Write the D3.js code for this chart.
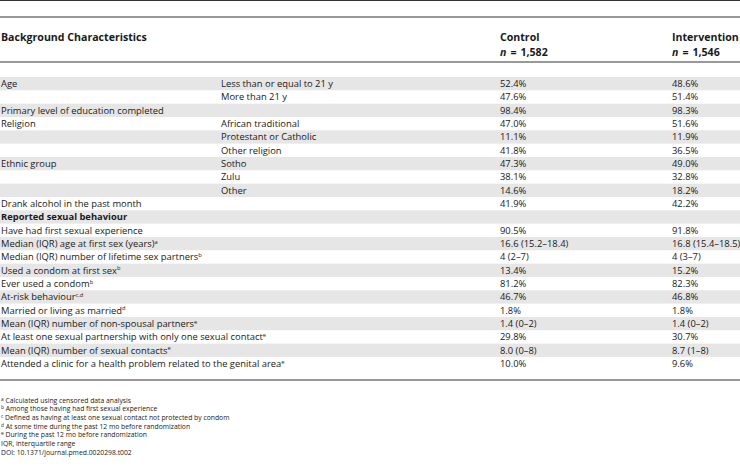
<!DOCTYPE html>
<html><head><meta charset="utf-8">
<script src="https://cdn.jsdelivr.net/npm/d3@7"></script>
<style>
html,body{margin:0;padding:0;background:#fff;}
svg{display:block;}
text{font-family:"Open Sans",sans-serif;fill:#1a1a1a;}
</style></head>
<body>
<svg id="chart" width="740" height="467"></svg>
<script>
// ---- data ----
const rowLabels = ["Age","","Primary level of education completed","Religion","","","Ethnic group","","","Drank alcohol in the past month","Reported sexual behaviour","Have had first sexual experience","Median (IQR) age at first sex (years)","Median (IQR) number of lifetime sex partners","Used a condom at first sex","Ever used a condom","At-risk behaviour","Married or living as married","Mean (IQR) number of non-spousal partners","At least one sexual partnership with only one sexual contact","Mean (IQR) number of sexual contacts","Attended a clinic for a health problem related to the genital area"];
const rowNotes = ["","","","","","","","","","","","","a","b","b","b","c,d","d","e","e","e","e"];
const subLabels = ["Less than or equal to 21 y","More than 21 y","","African traditional","Protestant or Catholic","Other religion","Sotho","Zulu","Other","","","","","","","","","","","","",""];
const controlValues = ["52.4%","47.6%","98.4%","47.0%","11.1%","41.8%","47.3%","38.1%","14.6%","41.9%","","90.5%","16.6 (15.2–18.4)","4 (2–7)","13.4%","81.2%","46.7%","1.8%","1.4 (0–2)","29.8%","8.0 (0–8)","10.0%"];
const interventionValues = ["48.6%","51.4%","98.3%","51.6%","11.9%","36.5%","49.0%","32.8%","18.2%","42.2%","","91.8%","16.8 (15.4–18.5)","4 (3–7)","15.2%","82.3%","46.8%","1.8%","1.4 (0–2)","30.7%","8.7 (1–8)","9.6%"];
const boldRows = ["Reported sexual behaviour"];
const headerTitle = "Background Characteristics";
const groupNames = ["Control","Intervention"];
const groupN = ["1,582","1,546"];
const footnoteMarks = ["a","b","c","d","e","",""];
const footnoteTexts = ["Calculated using censored data analysis","Among those having had first sexual experience","Defined as having at least one sexual contact not protected by condom","At some time during the past 12 mo before randomization","During the past 12 mo before randomization","IQR, interquartile range","DOI: 10.1371/journal.pmed.0020298.t002"];

// ---- layout ----
const W = 740;
const svg = d3.select("#chart");
const fs = 9.4, hfs = 10.6;
const cols = ["label","sub","control","intervention"];
const x = d3.scaleOrdinal().domain(cols).range([1, 221, 500, 672]);
const y = d3.scaleBand().domain(d3.range(rowLabels.length)).range([77, 77 + 13.33*rowLabels.length]).padding(0);
const rows = rowLabels.map((l,i)=>({i, label:l, note:rowNotes[i], sub:subLabels[i], control:controlValues[i], intervention:interventionValues[i]}));

// stripes
svg.append("g").selectAll("rect").data(rows.filter(r=>r.i%2===0)).join("rect")
  .attr("x",0).attr("width",W).attr("y",r=>y(r.i)).attr("height",y.bandwidth())
  .attr("fill","#e6e6e6");

// rules
const rules = [0.5, 17, 62, 380];
svg.append("g").selectAll("line").data(rules).join("line")
  .attr("x1",0).attr("x2",W).attr("y1",d=>d).attr("y2",d=>d)
  .attr("stroke","#333").attr("stroke-width",1.2);

// header
const hdr = svg.append("g");
hdr.append("text").attr("x",x("label")).attr("y",41).attr("font-size",hfs).attr("font-weight","bold").text(headerTitle);
groupNames.forEach((g,k)=>{
  const cx = x(cols[2+k]);
  hdr.append("text").attr("x",cx).attr("y",41).attr("font-size",hfs).attr("font-weight","bold").text(g);
  const t = hdr.append("text").attr("x",cx).attr("y",56).attr("font-size",hfs).attr("font-weight","bold").attr("xml:space","preserve");
  t.append("tspan").attr("font-style","italic").text("n");
  t.append("tspan").attr("dx",4).text("=");
  t.append("tspan").attr("dx",4).text(groupN[k]);
});

// body
const body = svg.append("g");
const base = r => y(r.i) + y.bandwidth()/2 + 3.3;
const lab = body.selectAll("text.lab").data(rows).join("text").attr("class","lab")
  .attr("x",x("label")).attr("y",base).attr("font-size",fs)
  .attr("font-weight",r=>boldRows.includes(r.label)?"bold":"normal");
lab.append("tspan").text(r=>r.label);
lab.filter(r=>r.note).append("tspan").attr("dy",-3.2).attr("font-size",5.8).text(r=>r.note);
["sub","control","intervention"].forEach(c=>{
  body.selectAll("text."+c).data(rows.filter(r=>r[c])).join("text").attr("class",c)
    .attr("x",x(c)).attr("y",base).attr("font-size",fs).text(r=>r[c]);
});

// footnotes
const fy = d3.scaleLinear().domain([0,1]).range([402.5, 411.2]);
const fn = svg.append("g").selectAll("text").data(footnoteTexts.map((t,i)=>({t,i,m:footnoteMarks[i]}))).join("text")
  .attr("x",1).attr("y",d=>fy(d.i)).attr("font-size",6.8);
fn.filter(d=>d.m).append("tspan").attr("dy",-2).attr("font-size",4.8).text(d=>d.m);
fn.append("tspan").attr("dy",d=>d.m?2:0).text(d=>(d.m?" ":"")+d.t);
</script>
</body></html>
